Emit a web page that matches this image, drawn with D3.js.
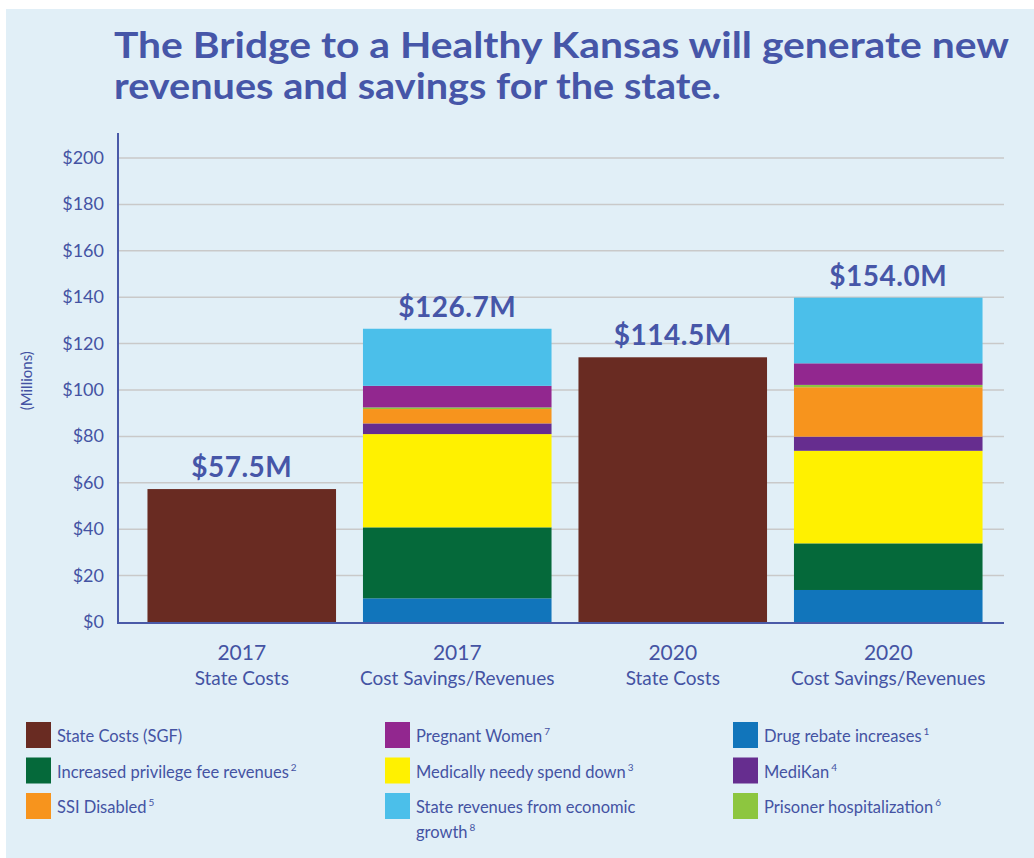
<!DOCTYPE html>
<html>
<head>
<meta charset="utf-8">
<script src="https://cdn.jsdelivr.net/npm/d3@7"></script>
<style>
  body { margin: 0; background: #fff; }
  svg text { font-family: Lato, "Open Sans", sans-serif; }
</style>
</head>
<body>
<div id="chart"></div>
<script>
// Bars (left to right)
const years = ["2017", "2017", "2020", "2020"];
const kinds = ["State Costs", "Cost Savings/Revenues", "State Costs", "Cost Savings/Revenues"];
const totalLabels = ["$57.5M", "$126.7M", "$114.5M", "$154.0M"];

// Stack segments, bottom to top (millions)
const stateCosts     = [57.3, 0, 114.1, 0];
const drugRebate     = [0, 10.2, 0, 13.8];
const privilegeFee   = [0, 30.6, 0, 20.1];
const medicallyNeedy = [0, 40.2, 0, 39.9];
const mediKan        = [0, 4.6, 0, 6.1];
const ssiDisabled    = [0, 6.2, 0, 21.3];
const prisoner       = [0, 0.7, 0, 1.0];
const pregnantWomen  = [0, 9.3, 0, 9.3];
const econGrowth     = [0, 24.6, 0, 28.3];

const yTicks = [0, 20, 40, 60, 80, 100, 120, 140, 160, 180, 200];

const seriesList = [
  { key: "stateCosts", values: stateCosts, color: "#692b22" },
  { key: "drugRebate", values: drugRebate, color: "#1175bb" },
  { key: "privilegeFee", values: privilegeFee, color: "#05693a" },
  { key: "medicallyNeedy", values: medicallyNeedy, color: "#fff100" },
  { key: "mediKan", values: mediKan, color: "#662d8f" },
  { key: "ssiDisabled", values: ssiDisabled, color: "#f7941d" },
  { key: "prisoner", values: prisoner, color: "#8dc63f" },
  { key: "pregnantWomen", values: pregnantWomen, color: "#92278f" },
  { key: "econGrowth", values: econGrowth, color: "#4bbfea" }
];
const colors = {};
seriesList.forEach(s => colors[s.key] = s.color);

// Legend, column by column
const legendItems = [
  { key: "stateCosts", text: "State Costs (SGF)", sup: "" },
  { key: "privilegeFee", text: "Increased privilege fee revenues", sup: "2" },
  { key: "ssiDisabled", text: "SSI Disabled", sup: "5" },
  { key: "pregnantWomen", text: "Pregnant Women", sup: "7" },
  { key: "medicallyNeedy", text: "Medically needy spend down", sup: "3" },
  { key: "econGrowth", text: "State revenues from economic|growth", sup: "8" },
  { key: "drugRebate", text: "Drug rebate increases", sup: "1" },
  { key: "mediKan", text: "MediKan", sup: "4" },
  { key: "prisoner", text: "Prisoner hospitalization", sup: "6" }
];

const W = 1034, H = 858;
const textColor = "#4453a3";

const svg = d3.select("#chart").append("svg")
  .attr("width", W)
  .attr("height", H);

svg.append("rect")
  .attr("x", 6).attr("y", 9)
  .attr("width", W - 6).attr("height", H - 9)
  .attr("fill", "#e1eff7");

// Title (one text, two lines)
const titleLines = ["The Bridge to a Healthy Kansas will generate new", "revenues and savings for the state."];
const titleWidths = [895, 607];
const title = svg.append("text")
  .attr("y", 58)
  .style("font-size", "37px")
  .style("font-weight", "bold")
  .style("fill", "#4656a8");
title.selectAll("tspan")
  .data(titleLines)
  .enter()
  .append("tspan")
  .attr("x", 114)
  .attr("dy", (d, i) => i === 0 ? 0 : 41)
  .attr("textLength", (d, i) => titleWidths[i])
  .attr("lengthAdjust", "spacingAndGlyphs")
  .text(d => d);

// Scales
const x = d3.scaleBand()
  .domain(d3.range(years.length))
  .range([134, 996])
  .paddingInner(0.125)
  .paddingOuter(0.0625);

const y = d3.scaleLinear()
  .domain([0, 200])
  .range([622, 158]);

const axisLeft = 118, axisRight = 1004;

// Gridlines
svg.append("g")
  .selectAll("line")
  .data(yTicks.slice(1))
  .enter()
  .append("line")
  .attr("x1", axisLeft).attr("x2", axisRight)
  .attr("y1", d => y(d)).attr("y2", d => y(d))
  .attr("stroke", "#c9c9c9")
  .attr("stroke-width", 1.5);

// Y tick labels
svg.append("g")
  .selectAll("text")
  .data(yTicks)
  .enter()
  .append("text")
  .attr("x", 104)
  .attr("y", d => y(d) + 6)
  .attr("text-anchor", "end")
  .style("font-size", "18px")
  .style("fill", textColor)
  .text(d => "$" + d);

svg.append("text")
  .attr("transform", `translate(32, ${y(104)}) rotate(-90)`)
  .attr("text-anchor", "middle")
  .style("font-size", "15px")
  .style("fill", textColor)
  .text("(Millions)");

// Stacked bars
const rows = years.map((yr, i) => {
  const r = { index: i };
  seriesList.forEach(s => r[s.key] = s.values[i]);
  return r;
});
const layers = d3.stack().keys(seriesList.map(s => s.key))(rows);

svg.append("g")
  .selectAll("g")
  .data(layers)
  .enter()
  .append("g")
  .attr("fill", d => colors[d.key])
  .selectAll("rect")
  .data(d => d.filter(p => p[1] - p[0] > 0))
  .enter()
  .append("rect")
  .attr("x", d => x(d.data.index))
  .attr("width", x.bandwidth())
  .attr("y", d => y(d[1]))
  .attr("height", d => y(d[0]) - y(d[1]));

// Axis lines
svg.append("line")
  .attr("x1", axisLeft).attr("x2", axisLeft)
  .attr("y1", 133).attr("y2", 623)
  .attr("stroke", "#4a5aa8").attr("stroke-width", 2);
svg.append("line")
  .attr("x1", axisLeft - 1).attr("x2", axisRight)
  .attr("y1", 623).attr("y2", 623)
  .attr("stroke", "#4a5aa8").attr("stroke-width", 2);

// Totals above bars
const barTops = rows.map(r => d3.sum(seriesList, s => r[s.key]));
svg.append("g")
  .selectAll("text")
  .data(totalLabels)
  .enter()
  .append("text")
  .attr("x", (d, i) => x(i) + x.bandwidth() / 2)
  .attr("y", (d, i) => y(barTops[i]) - 12)
  .attr("text-anchor", "middle")
  .style("font-size", "28px")
  .style("font-weight", "bold")
  .style("letter-spacing", "0.5px")
  .style("fill", "#4656a8")
  .text(d => d);

// Category labels
const cat = svg.append("g")
  .selectAll("g")
  .data(years)
  .enter()
  .append("g")
  .attr("transform", (d, i) => `translate(${x(i) + x.bandwidth() / 2}, 0)`);
cat.append("text")
  .attr("y", 660)
  .attr("text-anchor", "middle")
  .style("font-size", "21px")
  .style("fill", textColor)
  .text(d => d);
cat.append("text")
  .attr("y", 685)
  .attr("text-anchor", "middle")
  .style("font-size", "19px")
  .style("fill", textColor)
  .text((d, i) => kinds[i]);

// Legend
const colX = [26, 385, 733];
const legend = svg.append("g")
  .selectAll("g")
  .data(legendItems)
  .enter()
  .append("g")
  .attr("transform", (d, i) => `translate(${colX[Math.floor(i / 3)]}, ${722 + (i % 3) * 35.5})`);

legend.append("rect")
  .attr("width", 25)
  .attr("height", 26)
  .attr("fill", d => colors[d.key]);

const ltext = legend.append("text")
  .attr("x", 31)
  .attr("y", 20)
  .style("font-size", "16.5px")
  .style("fill", textColor);

ltext.each(function(d) {
  const t = d3.select(this);
  const parts = d.text.split("|");
  parts.forEach((p, j) => {
    t.append("tspan")
      .attr("x", 31)
      .attr("dy", j === 0 ? 0 : 25)
      .text(p);
  });
  if (d.sup) {
    t.append("tspan")
      .attr("dx", 2)
      .attr("dy", -7)
      .style("font-size", "10px")
      .text(d.sup);
  }
});
</script>
</body>
</html>
